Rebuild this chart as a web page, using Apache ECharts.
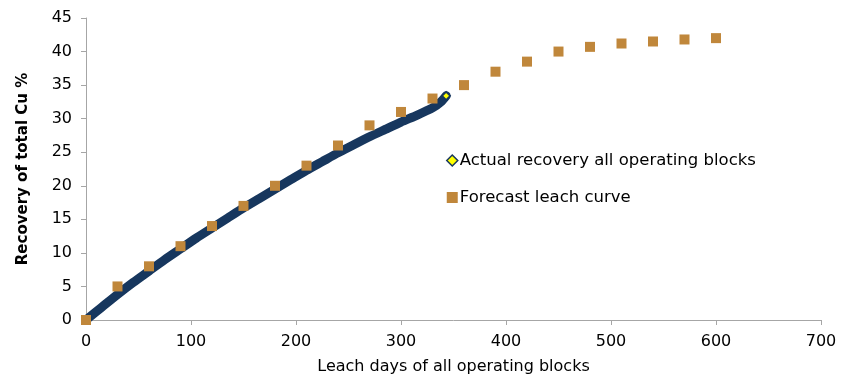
<!DOCTYPE html>
<html><head><meta charset="utf-8">
<script src="https://cdn.jsdelivr.net/npm/echarts@6/dist/echarts.min.js"></script>
<style>html,body{margin:0;padding:0;background:#fff}#c{width:850px;height:374px}</style>
</head><body><div id="c"></div>
<script>
const actualDays = [0, 15, 30, 45, 60, 75, 90, 105, 120, 135, 150, 165, 180, 195, 210, 225, 240, 255, 270, 285, 300, 315, 330, 338, 343];
const actualRecovery = [0, 1.9, 3.8, 5.6, 7.3, 9.0, 10.6, 12.2, 13.7, 15.2, 16.7, 18.1, 19.5, 20.9, 22.3, 23.6, 24.9, 26.1, 27.3, 28.4, 29.5, 30.5, 31.6, 32.5, 33.4];
const forecastDays = [0, 30, 60, 90, 120, 150, 180, 210, 240, 270, 300, 330, 360, 390, 420, 450, 480, 510, 540, 570, 600];
const forecastRecovery = [0, 5, 8, 11, 14, 17, 20, 23, 26, 29, 31, 33, 35, 37, 38.5, 40, 40.7, 41.2, 41.5, 41.8, 42];
const xTicks = [0, 100, 200, 300, 400, 500, 600, 700];
const yTicks = [0, 5, 10, 15, 20, 25, 30, 35, 40, 45];
const names = ['Actual recovery all operating blocks', 'Forecast leach curve'];

const font = 'DejaVu Sans';
const fs = 16;
const chart = echarts.init(document.getElementById('c'), null, {renderer: 'canvas'});
const lastIdx = actualDays.length - 1;
chart.setOption({
  animation: false,
  textStyle: {fontFamily: font},
  grid: {left: 86, right: 29, top: 18, bottom: 54, containLabel: false, outerBoundsMode: 'none'},
  xAxis: {
    type: 'value', min: xTicks[0], max: xTicks[xTicks.length - 1], interval: 100,
    name: 'Leach days of all operating blocks', nameLocation: 'middle', nameGap: 39,
    nameTextStyle: {fontFamily: font, fontSize: fs, color: '#000'},
    axisLine: {lineStyle: {color: '#A6A6A6', width: 1}},
    axisTick: {show: true, length: 5, lineStyle: {color: '#A6A6A6'}},
    axisLabel: {fontFamily: font, fontSize: fs, color: '#000', margin: 14},
    splitLine: {show: false}
  },
  yAxis: {
    type: 'value', min: yTicks[0], max: yTicks[yTicks.length - 1], interval: 5,
    name: 'Recovery of total Cu %', nameLocation: 'middle', nameGap: 55,
    nameTextStyle: {fontFamily: font, fontSize: 15, fontWeight: 'bold', color: '#000'},
    axisLine: {show: true, lineStyle: {color: '#A6A6A6', width: 1}},
    axisTick: {show: true, length: 5, lineStyle: {color: '#A6A6A6'}},
    axisLabel: {fontFamily: font, fontSize: fs, color: '#000', margin: 14},
    splitLine: {show: false}
  },
  legend: {
    orient: 'vertical', left: 441, top: 147, itemGap: 20,
    itemWidth: 11, itemHeight: 11,
    textStyle: {fontFamily: font, fontSize: 16.5, color: '#000', padding: [0, 0, 0, -3]},
    data: [
      {name: names[0], icon: 'diamond', itemStyle: {color: '#FFFF00', borderColor: '#17375E', borderWidth: 1.5}},
      {name: names[1], icon: 'rect', itemStyle: {color: '#C0873B', opacity: 1}}
    ]
  },
  series: [
    {
      name: names[0], type: 'line', smooth: 0.2, z: 2,
      data: actualDays.map((d, i) => [d, actualRecovery[i]]),
      lineStyle: {color: '#17375E', width: 9, cap: 'round', join: 'round'},
      showSymbol: true, symbol: 'diamond',
      symbolSize: (v, p) => p.dataIndex === lastIdx ? 8 : 0,
      itemStyle: {color: '#FFFF00', borderColor: '#17375E', borderWidth: 1.5}
    },
    {
      name: names[1], type: 'scatter', z: 3,
      data: forecastDays.map((d, i) => [d, forecastRecovery[i]]),
      symbol: 'rect', symbolSize: 10,
      itemStyle: {color: '#C0873B', opacity: 1}
    }
  ]
});
</script></body></html>
